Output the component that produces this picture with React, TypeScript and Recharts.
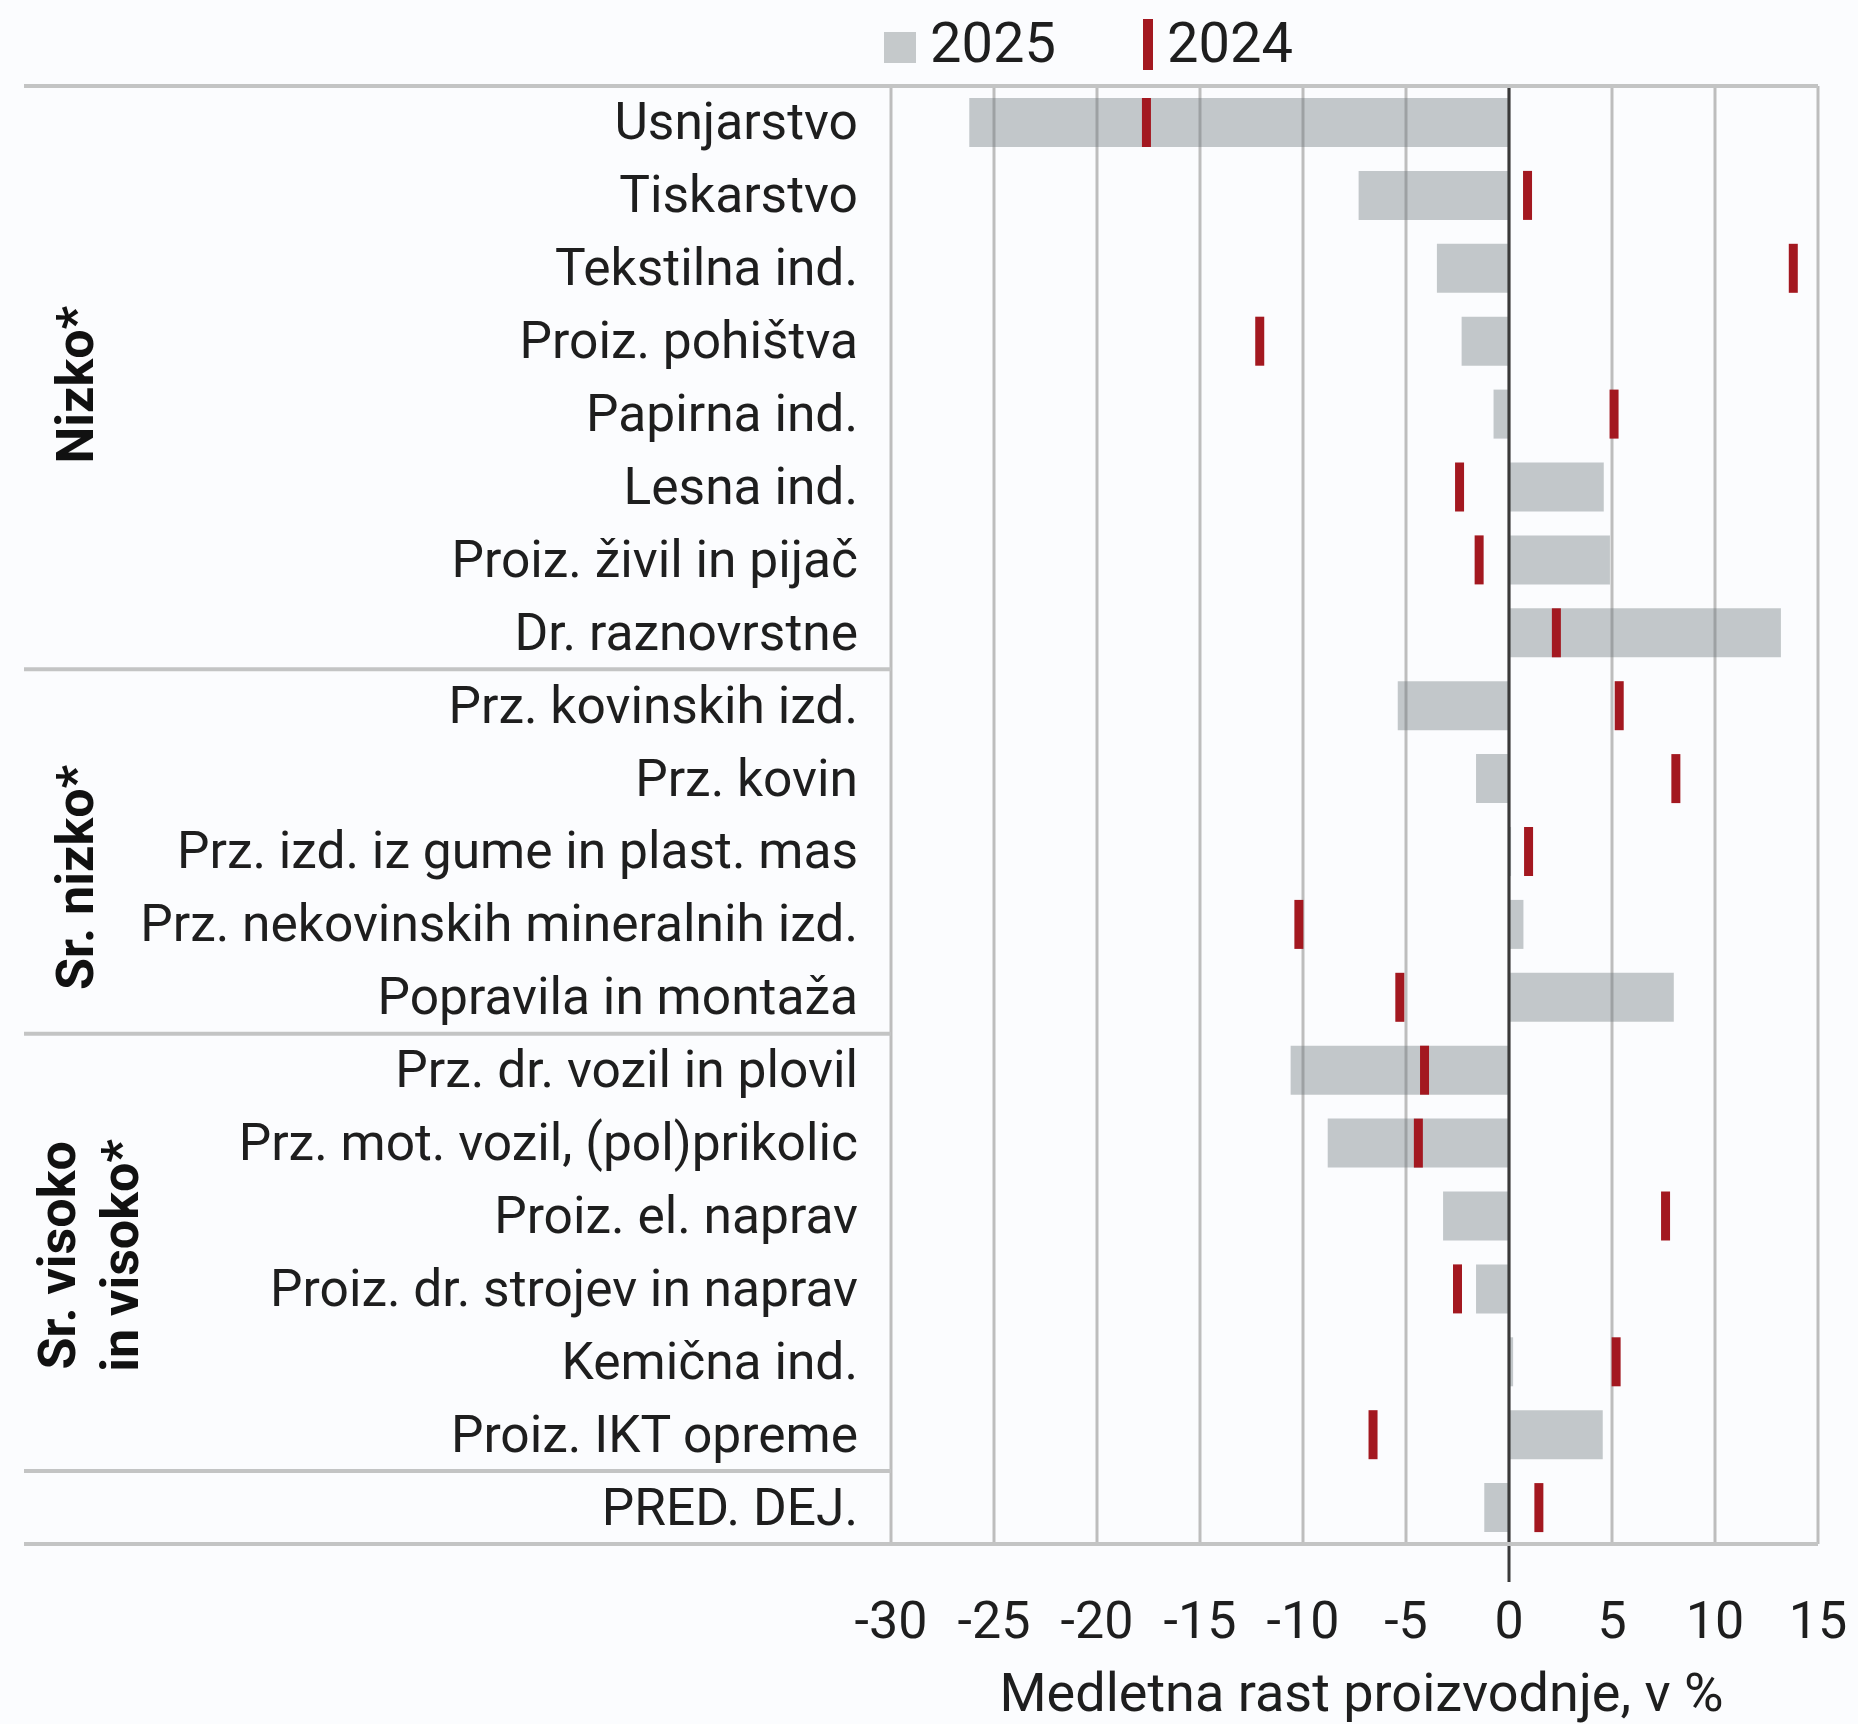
import { ComposedChart, Bar, XAxis, YAxis, CartesianGrid, ReferenceLine } from 'recharts';

const CATEGORIES = [
  'Usnjarstvo',
  'Tiskarstvo',
  'Tekstilna ind.',
  'Proiz. pohištva',
  'Papirna ind.',
  'Lesna ind.',
  'Proiz. živil in pijač',
  'Dr. raznovrstne',
  'Prz. kovinskih izd.',
  'Prz. kovin',
  'Prz. izd. iz gume in plast. mas',
  'Prz. nekovinskih mineralnih izd.',
  'Popravila in montaža',
  'Prz. dr. vozil in plovil',
  'Prz. mot. vozil, (pol)prikolic',
  'Proiz. el. naprav',
  'Proiz. dr. strojev in naprav',
  'Kemična ind.',
  'Proiz. IKT opreme',
  'PRED. DEJ.',
];

const VALUES_2025 = [-26.2, -7.3, -3.5, -2.3, -0.75, 4.6, 4.9, 13.2, -5.4, -1.6, 0.1, 0.7, 8.0, -10.6, -8.8, -3.2, -1.6, 0.2, 4.55, -1.2];
const VALUES_2024 = [-17.6, 0.9, 13.8, -12.1, 5.1, -2.4, -1.45, 2.3, 5.35, 8.1, 0.95, -10.2, -5.3, -4.1, -4.4, 7.6, -2.5, 5.2, -6.6, 1.45];

const X_TICKS = [-30, -25, -20, -15, -10, -5, 0, 5, 10, 15];

// groups of rows with their rotated labels (dy nudges the label along the column)
const GROUPS = [
  { lines: ['Nizko*'], first: 0, last: 7, dy: 7 },
  { lines: ['Sr. nizko*'], first: 8, last: 12, dy: 26 },
  { lines: ['Sr. visoko', 'in visoko*'], first: 13, last: 18, dy: 3 },
];
const SEPARATORS_AFTER = [7, 12, 18];

const data = CATEGORIES.map((name, i) => ({ name, y2025: VALUES_2025[i], y2024: VALUES_2024[i] }));

const W = 1858;
const H = 1724;
const MARGIN = { top: 86, right: 40, bottom: 0, left: 24 };
const Y_AXIS_W = 867;
const X_AXIS_H = 180;
const PLOT_LEFT = MARGIN.left + Y_AXIS_W;
const PLOT_RIGHT = W - MARGIN.right;
const PLOT_TOP = MARGIN.top;
const PLOT_BOTTOM = H - X_AXIS_H;
const STEP = (PLOT_BOTTOM - PLOT_TOP) / CATEGORIES.length;

const FONT = 'Roboto, "Noto Sans", sans-serif';
const TEXT = '#1e1e1e';
const RULE = '#c3c4c4';
const GREY = '#6f777c';
const RED = '#a31820';

function CategoryTick(props: any) {
  const { x, y, payload, index } = props;
  const group = GROUPS.find((g) => g.first === index);
  const top = y - STEP / 2;
  const bottom = y + STEP / 2;
  return (
    <g>
      <text x={x - 33} y={y + 17} textAnchor="end" fontFamily={FONT} fontSize={51.5} fill={TEXT}>
        {payload.value}
      </text>
      {index === 0 && <line x1={MARGIN.left} x2={PLOT_RIGHT} y1={top} y2={top} stroke={RULE} strokeWidth={4} />}
      {index === CATEGORIES.length - 1 && (
        <line x1={MARGIN.left} x2={PLOT_RIGHT} y1={bottom} y2={bottom} stroke={RULE} strokeWidth={4} />
      )}
      {SEPARATORS_AFTER.includes(index) && (
        <line x1={MARGIN.left} x2={PLOT_LEFT} y1={bottom} y2={bottom} stroke={RULE} strokeWidth={4} />
      )}
      {group && (() => {
        const cy = top + ((group.last - group.first + 1) * STEP) / 2 + group.dy;
        const n = group.lines.length;
        return group.lines.map((line, k) => {
          const bx = n === 1 ? 93 : 75 + k * 63;
          return (
            <text
              key={line}
              x={bx}
              y={cy}
              transform={`rotate(-90 ${bx} ${cy})`}
              textAnchor="middle"
              fontFamily={FONT}
              fontWeight="bold"
              fontSize={52}
              fill="#111"
            >
              {line}
            </text>
          );
        });
      })()}
    </g>
  );
}

function ValueTick(props: any) {
  const { x, y, payload } = props;
  return (
    <text x={x} y={y + 92} textAnchor="middle" fontFamily={FONT} fontSize={52} fill={TEXT}>
      {payload.value}
    </text>
  );
}

function Marker(props: any) {
  const { x, y, width, height, payload } = props;
  const end = payload.y2024 < 0 ? Math.min(x, x + width) : Math.max(x, x + width);
  return <rect x={end - 4.5} y={y} width={9} height={height} fill={RED} />;
}

function ZeroLine(props: any) {
  const { x1, x2, y1, y2 } = props;
  return (
    <line x1={x1} x2={x2} y1={Math.min(y1, y2)} y2={Math.max(y1, y2) + 38} stroke="#3a3a3a" strokeWidth={3} />
  );
}

function LegendBox() {
  return (
    <div style={{ position: 'absolute', left: 0, top: 0, width: W, height: 80, fontFamily: FONT, fontSize: 56, color: TEXT }}>
      <div style={{ position: 'absolute', left: 884, top: 32, width: 32, height: 31, background: '#c5c9cb' }} />
      <div style={{ position: 'absolute', left: 930, top: 8, lineHeight: '70px' }}>2025</div>
      <div style={{ position: 'absolute', left: 1143, top: 19, width: 10, height: 51, background: RED }} />
      <div style={{ position: 'absolute', left: 1167, top: 8, lineHeight: '70px' }}>2024</div>
    </div>
  );
}

export default function App() {
  return (
    <div style={{ position: 'absolute', left: 0, top: 0, width: W, height: H, background: '#fbfcfe' }}>
      <ComposedChart width={W} height={H} data={data} layout="vertical" margin={MARGIN}>
        <CartesianGrid horizontal={false} stroke="#bdbdbd" strokeWidth={3} />
        <XAxis
          type="number"
          domain={[-30, 15]}
          ticks={X_TICKS}
          axisLine={false}
          tickLine={false}
          tickSize={0}
          tick={<ValueTick />}
          height={X_AXIS_H}
          label={(p: any) => (
            <text
              x={p.viewBox.x + p.viewBox.width / 2 + 7}
              y={1711}
              textAnchor="middle"
              fontFamily={FONT}
              fontSize={54}
              fill={TEXT}
            >
              Medletna rast proizvodnje, v %
            </text>
          )}
        />
        <YAxis
          type="category"
          dataKey="name"
          width={Y_AXIS_W}
          axisLine={false}
          tickLine={false}
          tickSize={0}
          tickMargin={0}
          interval={0}
          tick={<CategoryTick />}
        />
        <YAxis yAxisId="mark" type="category" dataKey="name" hide />
        <Bar dataKey="y2025" name="2025" fill={GREY} fillOpacity={0.4} barSize={49} isAnimationActive={false} />
        <Bar dataKey="y2024" name="2024" yAxisId="mark" fill={RED} barSize={49} shape={<Marker />} isAnimationActive={false} />
        <ReferenceLine x={0} shape={<ZeroLine />} />
      </ComposedChart>
      <LegendBox />
    </div>
  );
}
